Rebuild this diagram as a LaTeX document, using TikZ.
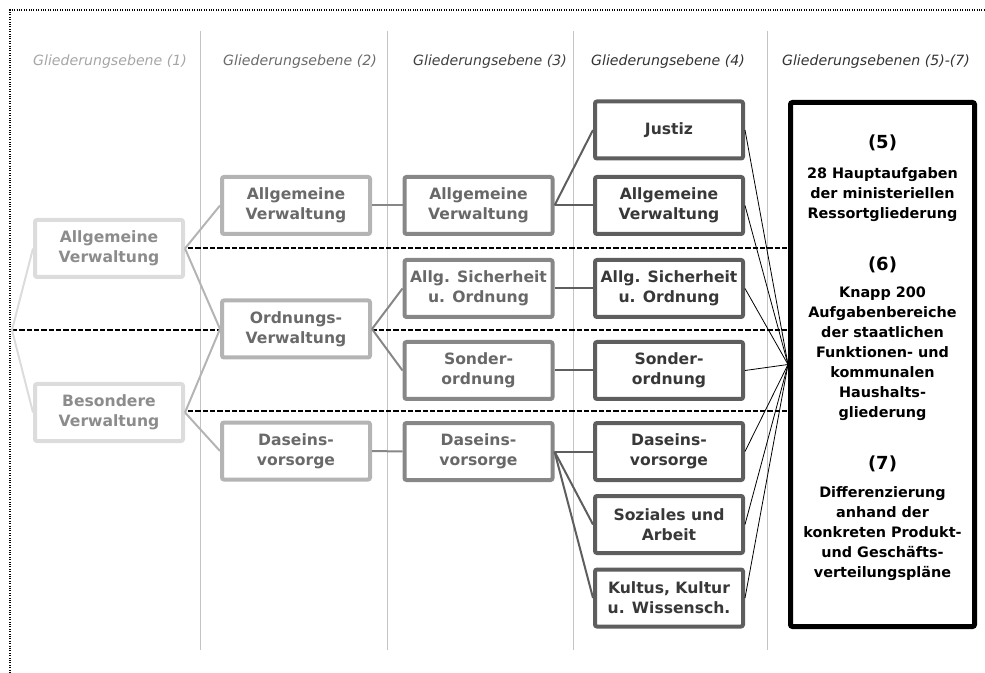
\documentclass[tikz,border=0pt]{standalone}
\usepackage{fontspec}
\setmainfont{DejaVu Sans}
\definecolor{rand1}{HTML}{DCDCDC}
\definecolor{rand2}{HTML}{B4B4B4}
\definecolor{rand3}{HTML}{878787}
\definecolor{rand4}{HTML}{5E5E5E}
\definecolor{schrift1}{HTML}{8C8C8C}
\definecolor{schrift2}{HTML}{6A6A6A}
\definecolor{schrift3}{HTML}{686868}
\definecolor{schrift4}{HTML}{383838}
\definecolor{trenner}{HTML}{C4C4C4}
\begin{document}
\begin{tikzpicture}[x=0.75pt,y=-0.75pt,
    box/.style = {shape=rectangle, rounded corners=1.5pt, draw, fill=white, line width=3pt, align=center,
                  minimum width=111pt, minimum height=42.75pt, inner sep=0pt,
                  font=\bfseries\fontsize{11.7}{15}\selectfont},
    kopf/.style = {font=\itshape\fontsize{10.6}{12}\selectfont}]
    \tikzset{ ebene1/.style = {box, draw=rand1, text=schrift1},
              ebene2/.style = {box, draw=rand2, text=schrift2},
              ebene3/.style = {box, draw=rand3, text=schrift3},
              ebene4/.style = {box, draw=rand4, text=schrift4},
              kante/.style = {line width=1.5pt} }
    \useasboundingbox (0,0) rectangle (985,673);
    % Rahmen und Spalten
    \draw[densely dotted, line width=0.8pt] (10,673) |- (985,10);
    \foreach \x in {200,387,573,767}
        \draw[trenner, line width=0.6pt] (\x,31) -- (\x,650);
    \draw[dash pattern=on 4pt off 1.5pt, line width=0.9pt] (188,248) -- (788,248);
    \draw[dash pattern=on 4pt off 1.5pt, line width=0.9pt] (12,330) -- (788,330);
    \draw[dash pattern=on 4pt off 1.5pt, line width=0.9pt] (188,411) -- (788,411);
    % Kopfzeile
    \node[kopf, text=black!35] at (110,62) {Gliederungsebene (1)};
    \node[kopf, text=black!58] at (300,62) {Gliederungsebene (2)};
    \node[kopf, text=black!75] at (490,62) {Gliederungsebene (3)};
    \node[kopf, text=black!80] at (668,62) {Gliederungsebene (4)};
    \node[kopf, text=black!80] at (876,62) {Gliederungsebenen (5)-(7)};
    % Ebene 1
    \coordinate (wurzel) at (12,330);
    \node[ebene1] (e1allg) at (109,248.5) {Allgemeine\\Verwaltung};
    \node[ebene1] (e1bes) at (109,412.5) {Besondere\\Verwaltung};
    % Ebene 2
    \node[ebene2] (e2allg) at (296,205.5) {Allgemeine\\Verwaltung};
    \node[ebene2] (e2ord) at (296,329) {Ordnungs-\\Verwaltung};
    \node[ebene2] (e2das) at (296,451) {Daseins-\\vorsorge};
    % Ebene 3
    \node[ebene3] (e3allg) at (478.5,205.5) {Allgemeine\\Verwaltung};
    \node[ebene3] (e3sich) at (478.5,288.5) {Allg. Sicherheit\\u. Ordnung};
    \node[ebene3] (e3sond) at (478.5,370.5) {Sonder-\\ordnung};
    \node[ebene3] (e3das) at (478.5,451.5) {Daseins-\\vorsorge};
    % Ebene 4
    \node[ebene4] (e4just) at (669,130) {Justiz};
    \node[ebene4] (e4allg) at (669,205.5) {Allgemeine\\Verwaltung};
    \node[ebene4] (e4sich) at (669,288.5) {Allg. Sicherheit\\u. Ordnung};
    \node[ebene4] (e4sond) at (669,370.5) {Sonder-\\ordnung};
    \node[ebene4] (e4das) at (669,451.5) {Daseins-\\vorsorge};
    \node[ebene4] (e4soz) at (669,524.5) {Soziales und\\Arbeit};
    \node[ebene4] (e4kult) at (669,598) {Kultus, Kultur\\u. Wissensch.};
    % Ebenen 5-7
    \node[draw, line width=3.75pt, rounded corners=1.5pt, minimum width=138pt, minimum height=393pt] (e57) at (882.5,364.5) {};
    \begin{scope}[every node/.style={align=center, font=\bfseries\fontsize{10.8}{15}\selectfont}]
        \node (n5) at (882.5,143) {\fontsize{13.5}{15}\selectfont(5)};
        \node (t5) at (882.5,194.5) {28 Hauptaufgaben\\der ministeriellen\\Ressortgliederung};
        \node (n6) at (882.5,265) {\fontsize{13.5}{15}\selectfont(6)};
        \node (t6) at (882.5,354) {Knapp 200\\Aufgabenbereiche\\der staatlichen\\Funktionen- und\\kommunalen\\Haushalts-\\gliederung};
        \node (n7) at (882.5,464) {\fontsize{13.5}{15}\selectfont(7)};
        \node (t7) at (882.5,533.5) {Differenzierung\\anhand der\\konkreten Produkt-\\und Geschäfts-\\verteilungspläne};
    \end{scope}
    % Verbindungen
    \draw[kante, rand1] (e1allg.west) -- (wurzel) -- (e1bes.west);
    \draw[kante, rand2] (e1allg.east) -- (e2allg.west);
    \draw[kante, rand2] (e1allg.east) -- (e2ord.west);
    \draw[kante, rand2] (e1bes.east) -- (e2ord.west);
    \draw[kante, rand2] (e1bes.east) -- (e2das.west);
    \draw[kante, rand3] (e2allg.east) -- (e3allg.west);
    \draw[kante, rand3] (e2ord.east) -- (e3sich.west);
    \draw[kante, rand3] (e2ord.east) -- (e3sond.west);
    \draw[kante, rand3] (e2das.east) -- (e3das.west);
    \draw[kante, rand4] (e3allg.east) -- (e4just.west);
    \draw[kante, rand4] (e3allg.east) -- (e4allg.west);
    \draw[kante, rand4] (e3sich.east) -- (e4sich.west);
    \draw[kante, rand4] (e3sond.east) -- (e4sond.west);
    \draw[kante, rand4] (e3das.east) -- (e4das.west);
    \draw[kante, rand4] (e3das.east) -- (e4soz.west);
    \draw[kante, rand4] (e3das.east) -- (e4kult.west);
    \foreach \n in {e4just,e4allg,e4sich,e4sond,e4das,e4soz,e4kult}
        \draw[line width=0.6pt] (\n.east) -- (e57.west);
\end{tikzpicture}
\end{document}
